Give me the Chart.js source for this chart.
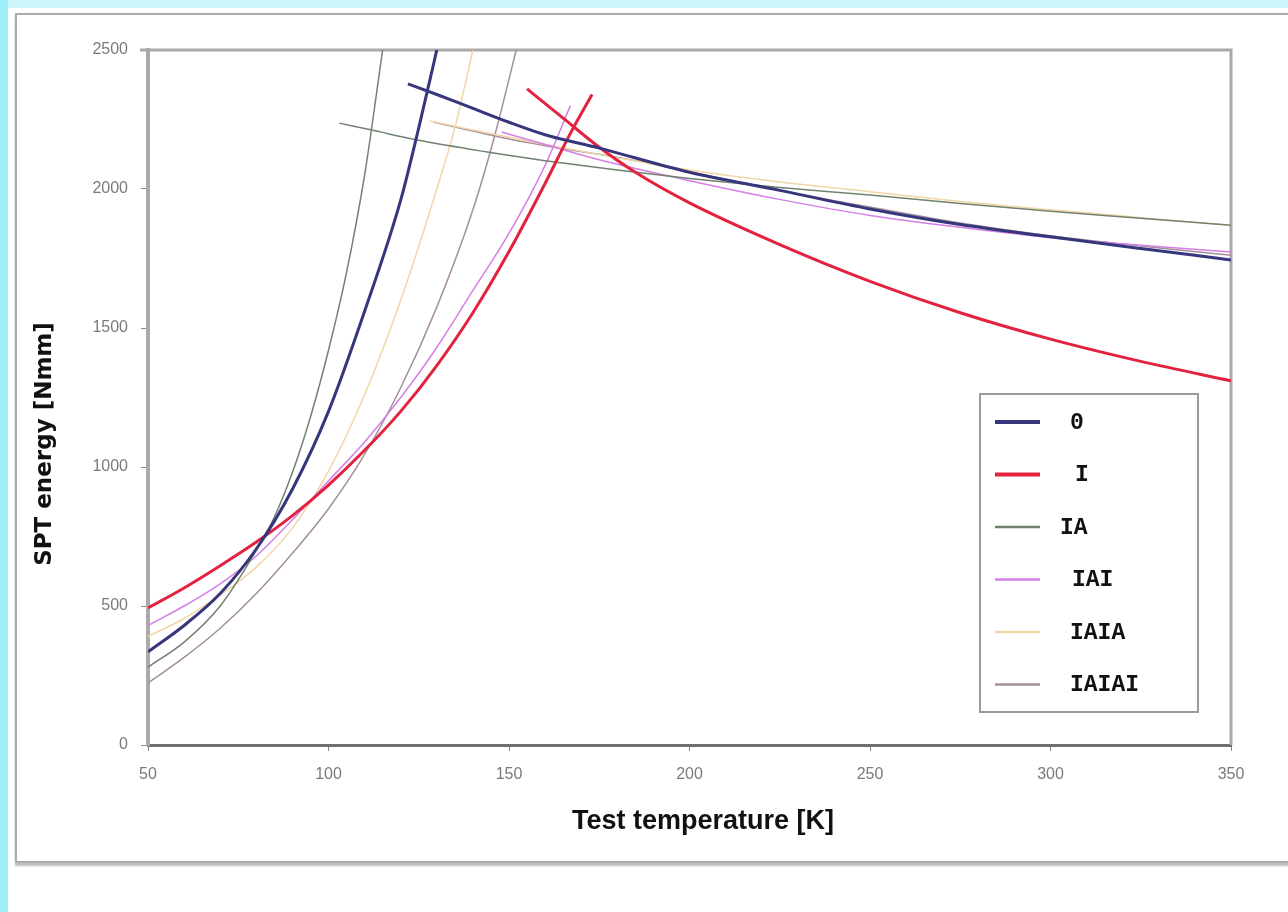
<!DOCTYPE html>
<html>
<head>
<meta charset="utf-8">
<script src="https://cdn.jsdelivr.net/npm/chart.js@4.4.1/dist/chart.umd.min.js"></script>
<style>
    body { margin: 0; background: #fff; width: 1288px; height: 912px; overflow: hidden; position: relative; }
    .cyan-top { position: absolute; left: 0; top: 0; width: 1288px; height: 8px; background: #ccf6fc; }
    .cyan-left { position: absolute; left: 0; top: 0; width: 8px; height: 912px; background: #9eeffa; }
    .panel { position: absolute; left: 15px; top: 13px; width: 1290px; height: 846px; border: 2px solid #ababab;
             background: #fff; box-shadow: 0 3px 2px #bdbdbd; }
    .chart-box { position: absolute; left: 0; top: 0; width: 1288px; height: 912px; }
</style>
</head>
<body>
<div class="cyan-top"></div>
<div class="cyan-left"></div>
<div class="panel"></div>
<div class="chart-box"><canvas id="sptChart"></canvas></div>
<script>
// series names (legend order)
const seriesLabels = ['0', 'I', 'IA', 'IAI', 'IAIA', 'IAIAI'];
const seriesColors = ['#36367c', '#e3223f', '#71826f', '#d57fe6', '#f2d6a6', '#a48f9b'];
const seriesWidths = [3, 3, 1.5, 1.5, 1.5, 1.5];

// [test temperature K, SPT energy Nmm] - transition (lower) branch
const lower0 = [[50, 335], [60, 430], [70, 545], [80, 705], [90, 920], [100, 1200], [110, 1560], [120, 1960], [125, 2220], [130, 2500]];
const lowerI = [[50, 493], [60, 565], [70, 645], [80, 730], [90, 825], [100, 935], [110, 1060], [120, 1200], [130, 1365], [140, 1555], [150, 1775], [160, 2020], [167, 2200], [173, 2340]];
const lowerIA = [[50, 280], [60, 370], [70, 500], [80, 700], [85, 820], [90, 980], [95, 1180], [100, 1420], [105, 1700], [110, 2050], [115, 2500]];
const lowerIAI = [[50, 430], [60, 500], [70, 580], [80, 680], [90, 810], [100, 950], [110, 1090], [120, 1250], [130, 1430], [140, 1635], [150, 1840], [160, 2085], [167, 2300]];
const lowerIAIA = [[50, 390], [60, 455], [70, 540], [80, 640], [90, 780], [100, 985], [110, 1260], [120, 1600], [130, 2000], [135, 2220], [140, 2500]];
const lowerIAIAI = [[50, 223], [60, 315], [70, 420], [80, 545], [90, 690], [100, 850], [110, 1045], [120, 1285], [130, 1575], [140, 1925], [146, 2190], [152, 2500]];

// upper shelf branch
const upper0 = [[122, 2378], [130, 2340], [140, 2290], [150, 2240], [160, 2195], [175, 2147], [200, 2060], [225, 1995], [250, 1928], [275, 1872], [300, 1828], [325, 1786], [350, 1745]];
const upperI = [[155, 2360], [165, 2255], [175, 2150], [185, 2060], [200, 1950], [225, 1800], [250, 1668], [275, 1555], [300, 1460], [325, 1380], [350, 1310]];
const upperIA = [[103, 2237], [112, 2212], [125, 2175], [144, 2133], [160, 2102], [180, 2068], [200, 2038], [225, 2005], [250, 1978], [275, 1948], [300, 1920], [325, 1895], [350, 1870]];
const upperIAI = [[148, 2205], [160, 2160], [175, 2105], [200, 2030], [226, 1960], [250, 1905], [275, 1862], [300, 1825], [325, 1798], [350, 1773]];
const upperIAIA = [[128, 2245], [140, 2212], [160, 2160], [180, 2112], [200, 2068], [225, 2025], [250, 1990], [275, 1955], [300, 1925], [325, 1897], [350, 1870]];
const upperIAIAI = [[129, 2241], [150, 2180], [165, 2145], [181, 2112], [200, 2062], [225, 1995], [250, 1935], [275, 1878], [300, 1832], [325, 1795], [350, 1762]];

// axes
const xMin = 50, xMax = 350, xStep = 50;
const yMin = 0, yMax = 2500, yStep = 500;
const xTitle = 'Test temperature [K]';
const yTitle = 'SPT energy [Nmm]';

const lowerBranches = [lower0, lowerI, lowerIA, lowerIAI, lowerIAIA, lowerIAIAI];
const upperBranches = [upper0, upperI, upperIA, upperIAI, upperIAIA, upperIAIAI];

// one dataset per series, the two branches split by a null point
function branchData(lower, upper) {
    const pts = lower.map(p => ({ x: p[0], y: p[1] }));
    pts.push({ x: lower[lower.length - 1][0], y: null });
    upper.forEach(p => pts.push({ x: p[0], y: p[1] }));
    return pts;
}

const datasets = seriesLabels.map((label, i) => ({
    label: label,
    data: branchData(lowerBranches[i], upperBranches[i]),
    borderColor: seriesColors[i],
    backgroundColor: seriesColors[i],
    borderWidth: seriesWidths[i],
    pointRadius: 0,
    cubicInterpolationMode: 'monotone',
    spanGaps: false,
    fill: false
}));

// frame, axis titles and the boxed legend
const framePlugin = {
    id: 'frame',
    beforeDatasetsDraw(chart) {
        const { ctx, chartArea: a } = chart;
        ctx.save();
        ctx.strokeStyle = '#a9a9a9';
        ctx.lineWidth = 3;
        ctx.beginPath();
        ctx.moveTo(a.left - 8, a.top);
        ctx.lineTo(a.right, a.top);
        ctx.lineTo(a.right, a.bottom);
        ctx.stroke();

        ctx.fillStyle = '#111';
        ctx.textAlign = 'center';
        ctx.textBaseline = 'middle';
        ctx.font = 'bold 27px "Liberation Sans Narrow", "Arial Narrow", "Liberation Sans", sans-serif';
        ctx.fillText(xTitle, a.left + 555, a.bottom + 77);

        ctx.translate(a.left - 103, a.top + 394);
        ctx.rotate(-Math.PI / 2);
        ctx.font = 'bold 23px "DejaVu Sans", sans-serif';
        ctx.fillText(yTitle, 0, 0);
        ctx.restore();
    },
    afterDatasetsDraw(chart) {
        const { ctx, chartArea: a } = chart;
        const boxX = a.right - 251, boxY = a.top + 344, boxW = 218, boxH = 318;
        const labelShift = [0, 5, -10, 2, 0, 0];
        ctx.save();
        ctx.fillStyle = '#fff';
        ctx.fillRect(boxX, boxY, boxW, boxH);
        ctx.strokeStyle = '#9a9a9a';
        ctx.lineWidth = 2;
        ctx.strokeRect(boxX, boxY, boxW, boxH);

        ctx.font = 'bold 23px "Liberation Mono", "Courier New", monospace';
        ctx.textBaseline = 'middle';
        ctx.textAlign = 'left';
        chart.data.datasets.forEach((ds, i) => {
            const y = boxY + 28 + i * 52.5;
            ctx.strokeStyle = ds.borderColor;
            ctx.lineWidth = ds.borderWidth + 1;
            ctx.beginPath();
            ctx.moveTo(boxX + 15, y);
            ctx.lineTo(boxX + 60, y);
            ctx.stroke();
            ctx.fillStyle = '#111';
            ctx.fillText(ds.label, boxX + 90 + labelShift[i], y + 1);
        });
        ctx.restore();
    }
};

new Chart(document.getElementById('sptChart'), {
    type: 'line',
    data: { datasets: datasets },
    options: {
        responsive: true,
        maintainAspectRatio: false,
        animation: false,
        layout: { padding: { top: 50, right: 57, left: 0, bottom: 0 } },
        plugins: {
            legend: { display: false },
            tooltip: { enabled: false }
        },
        scales: {
            x: {
                type: 'linear',
                min: xMin,
                max: xMax,
                afterFit: scale => { scale.height = 167; },
                ticks: {
                    stepSize: xStep,
                    color: '#7a7a7a',
                    padding: 14,
                    maxRotation: 0,
                    callback: v => String(v),
                    font: { family: '"Liberation Sans Narrow", "Liberation Sans", sans-serif', size: 16 }
                },
                grid: { drawOnChartArea: false, drawTicks: true, tickLength: 6, color: '#8a8a8a' },
                border: { color: '#707070', width: 3 }
            },
            y: {
                type: 'linear',
                min: yMin,
                max: yMax,
                afterFit: scale => { scale.width = 148; },
                ticks: {
                    stepSize: yStep,
                    color: '#7a7a7a',
                    padding: 13,
                    callback: v => String(v),
                    font: { family: '"Liberation Sans", sans-serif', size: 16 }
                },
                grid: { drawOnChartArea: false, drawTicks: true, tickLength: 7, color: '#8a8a8a' },
                border: { color: '#aaaaaa', width: 4 }
            }
        }
    },
    plugins: [framePlugin]
});
</script>
</body>
</html>
